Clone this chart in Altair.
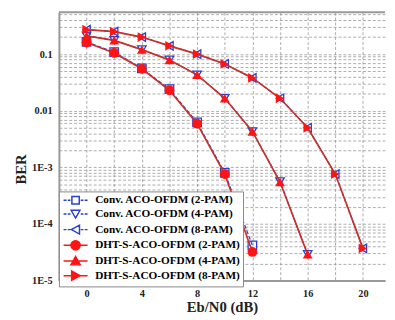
import altair as alt
import pandas as pd

# ---------------- data ----------------
snr = [0, 2, 4, 6, 8, 10, 12, 14, 16, 18, 20]

conv_2pam = [0.165, 0.108, 0.056, 0.024, 0.0062, 8.0e-4, 4.2e-5]
conv_4pam = [0.21, 0.175, 0.12, 0.079, 0.043, 0.0166, 0.0043, 5.6e-4, 2.9e-5]
conv_8pam = [0.27, 0.25, 0.2, 0.14, 0.1, 0.067, 0.038, 0.0166, 0.005, 7.6e-4, 3.7e-5]

dht_2pam = [0.16, 0.105, 0.055, 0.023, 0.0059, 7.6e-4, 3.2e-5]
dht_4pam = [0.21, 0.175, 0.12, 0.079, 0.043, 0.0166, 0.0043, 5.5e-4, 2.9e-5]
dht_8pam = [0.27, 0.25, 0.2, 0.14, 0.1, 0.067, 0.038, 0.0166, 0.005, 7.6e-4, 3.7e-5]

conv_names = ["Conv. ACO-OFDM (2-PAM)", "Conv. ACO-OFDM (4-PAM)", "Conv. ACO-OFDM (8-PAM)"]
dht_names = ["DHT-S-ACO-OFDM (2-PAM)", "DHT-S-ACO-OFDM (4-PAM)", "DHT-S-ACO-OFDM (8-PAM)"]
all_names = conv_names + dht_names
all_vals = [conv_2pam, conv_4pam, conv_8pam, dht_2pam, dht_4pam, dht_8pam]

x_grid = [-2, 0, 2, 4, 6, 8, 10, 12, 14, 16, 18, 20]
y_grid = [k * 10.0 ** d for d in range(-5, -1) for k in range(1, 10)] + [0.1, 0.2, 0.3, 0.4, 0.5]

# ---------------- build long table ----------------
rows = []
for name, vals in zip(all_names, all_vals):
    for xv, yv in zip(snr, vals):
        rows.append({"series": name, "snr": xv, "ber": yv})
df = pd.DataFrame(rows)

W, H = 333, 274
BLUE = "#2a3fd0"
RED = "#ff1414"
RED_LINE = "#c8302a"
SERIF = "Liberation Serif"

xs = alt.Scale(domain=[-2, 21.6], nice=False, zero=False)
ys = alt.Scale(type="log", domain=[1e-5, 0.55], nice=False)

X = alt.X("snr:Q", scale=xs,
          axis=alt.Axis(values=x_grid, title="Eb/N0 (dB)", grid=True, ticks=False,
                        labelExpr="(datum.value >= 0 && datum.value % 4 == 0) ? datum.value : ''",
                        labelOverlap=False, labelPadding=8, titlePadding=1))
Y = alt.Y("ber:Q", scale=ys,
          axis=alt.Axis(values=y_grid, title="BER", grid=True, ticks=False,
                        labelExpr="datum.value == 0.1 ? '0.1' : datum.value == 0.01 ? '0.01' : "
                                  "datum.value == 0.001 ? '1E-3' : datum.value == 0.0001 ? '1E-4' : "
                                  "datum.value == 0.00001 ? '1E-5' : ''",
                        labelOverlap=False, labelPadding=7, titleX=-31, titleY=160))

base = alt.Chart(df)

conv_shapes = ["square", "triangle-down", "triangle-left"]
dht_shapes = ["circle", "triangle-up", "triangle-right"]

layers = []
for name in conv_names:
    layers.append(base.transform_filter(alt.datum.series == name)
                  .mark_line(color=BLUE, strokeDash=[4, 2], strokeWidth=1.2)
                  .encode(x=X, y=Y))
for name, shp in zip(conv_names, conv_shapes):
    layers.append(base.transform_filter(alt.datum.series == name)
                  .mark_point(filled=False, shape=shp, color=BLUE, strokeWidth=1.3, size=75, opacity=1)
                  .encode(x=X, y=Y))
for name in dht_names:
    layers.append(base.transform_filter(alt.datum.series == name)
                  .mark_line(color=RED_LINE, strokeWidth=1.7)
                  .encode(x=X, y=Y))
for name, shp in zip(dht_names, dht_shapes):
    layers.append(base.transform_filter(alt.datum.series == name)
                  .mark_point(filled=True, shape=shp, color=RED, size=100, opacity=1)
                  .encode(x=X, y=Y))

# legend-only layer (no data drawn) with line+marker symbols
dash = "M-2.45,0L-1.85,0M-1.6,0L-1.05,0M1.05,0L1.6,0M1.85,0L2.45,0"
solid = "M-2.45,0L2.45,0"
leg_shapes = [
    dash + "M-0.75,-0.75L0.75,-0.75L0.75,0.75L-0.75,0.75Z",
    dash + "M-0.9,-0.75L0.9,-0.75L0,0.85Z",
    dash + "M0.8,-0.9L0.8,0.9L-0.85,0Z",
    solid + "M-0.95,0A0.95,0.95 0 1,0 0.95,0A0.95,0.95 0 1,0 -0.95,0Z",
    solid + "M-0.95,0.8L0.95,0.8L0,-0.9Z",
    solid + "M-0.8,-0.95L-0.8,0.95L0.95,0Z",
]
legend_layer = base.transform_filter("false").mark_point(size=121, strokeWidth=1.3, opacity=1).encode(
    x=X, y=Y,
    shape=alt.Shape("series:N", scale=alt.Scale(domain=all_names, range=leg_shapes),
                    legend=alt.Legend(title=None, orient="none", legendX=0, legendY=183,
                                      padding=3, rowPadding=0, symbolOffset=8, labelOffset=14,
                                      strokeColor="#888", fillColor="white",
                                      labelFont=SERIF, labelFontWeight="bold", labelFontSize=11.5,
                                      labelColor="black", labelLimit=400)),
    stroke=alt.Stroke("series:N", scale=alt.Scale(domain=all_names,
                                                    range=[BLUE, BLUE, BLUE, RED, RED, RED])),
    fill=alt.Fill("series:N", scale=alt.Scale(domain=all_names,
                                                range=["transparent"] * 3 + [RED] * 3)),
)
layers.append(legend_layer)

top_border = alt.Chart(pd.DataFrame({"a": [0]})).mark_rule(color="#999", strokeWidth=2).encode(
    y=alt.value(0), x=alt.value(0), x2=alt.value(W))
layers.append(top_border)

chart = alt.layer(*layers).properties(
    width=W, height=H,
    autosize=alt.AutoSizeParams(type="none"),
    padding={"left": 52, "top": 1, "right": 2, "bottom": 37},
).configure_view(stroke=None).configure_axis(
    gridColor="#8c8c8c", gridDash=[3, 2], gridWidth=0.8, gridOpacity=0.9,
    domainColor="#999", domainWidth=2,
    labelFont=SERIF, labelFontWeight="bold", labelFontSize=10.5, labelColor="#222",
    titleFont=SERIF, titleFontWeight="bold", titleFontSize=15, titleColor="#222",
)

chart.save("out.html", embed_options={"renderer": "svg", "actions": False})
